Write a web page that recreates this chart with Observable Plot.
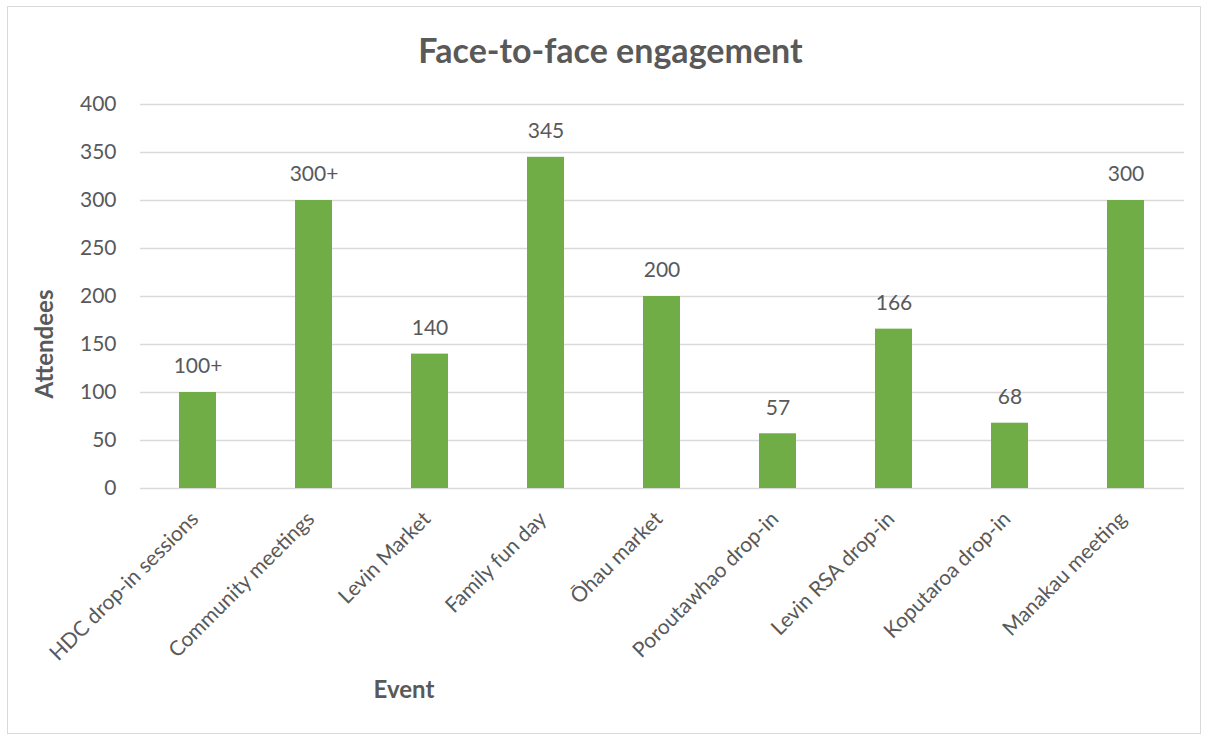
<!DOCTYPE html>
<html>
<head>
<meta charset="utf-8">
<script src="https://cdn.jsdelivr.net/npm/d3@7"></script>
<script src="https://cdn.jsdelivr.net/npm/@observablehq/plot@0.6"></script>
<style>
  html, body { margin: 0; padding: 0; background: #fff; }
  #wrap { position: relative; width: 1209px; height: 740px; overflow: hidden; font-family: Lato, "Open Sans", sans-serif; color: #595959; }
  #frame { position: absolute; left: 7px; top: 6px; width: 1194px; height: 728px; border: 1.5px solid #d9d9d9; box-sizing: border-box; }
  #title { position: absolute; left: 0; width: 1221px; top: 28px; text-align: center; font-size: 34px; font-weight: bold; line-height: 44px; }
  #ytitle { position: absolute; left: 43px; top: 344px; transform: translate(-50%, -50%) rotate(-90deg); font-size: 24px; font-weight: bold; white-space: nowrap; }
  #xtitle { position: absolute; left: 404px; top: 688px; transform: translate(-50%, -50%); font-size: 24px; font-weight: bold; white-space: nowrap; }
  #chart { position: absolute; left: 0; top: 0; }
</style>
</head>
<body>
<div id="wrap">
  <div id="frame"></div>
  <div id="chart"></div>
  <div id="title">Face-to-face engagement</div>
  <div id="ytitle">Attendees</div>
  <div id="xtitle">Event</div>
</div>
<script>
const events = ["HDC drop-in sessions", "Community meetings", "Levin Market", "Family fun day", "Ōhau market", "Poroutawhao drop-in", "Levin RSA drop-in", "Koputaroa drop-in", "Manakau meeting"];
const attendees = [100, 300, 140, 345, 200, 57, 166, 68, 300];
const valueLabels = ["100+", "300+", "140", "345", "200", "57", "166", "68", "300"];
const yTicks = [0, 50, 100, 150, 200, 250, 300, 350, 400];

const data = events.map((e, i) => ({event: e, value: attendees[i], label: valueLabels[i]}));

const chart = Plot.plot({
  width: 1209,
  height: 740,
  marginLeft: 140,
  marginRight: 25,
  marginTop: 104,
  marginBottom: 252,
  style: {fontFamily: "Lato, 'Open Sans', sans-serif", color: "#595959", background: "transparent"},
  x: {domain: events, paddingInner: 0.68, paddingOuter: 0.34, label: null},
  y: {domain: [0, 400], label: null},
  marks: [
    Plot.ruleY(yTicks, {stroke: "#d9d9d9", strokeWidth: 1.5}),
    Plot.barY(data, {x: "event", y: "value", fill: "#70AD47"}),
    Plot.text(data, {x: "event", y: "value", text: "label", dy: -26, fontSize: 21, fill: "#595959"}),
    Plot.axisY(yTicks, {tickSize: 0, tickPadding: 24, fontSize: 21, fill: "#595959", label: null}),
    Plot.axisX({tickSize: 0, tickPadding: 27, dx: -3, tickRotate: -45, fontSize: 21, fill: "#595959", label: null})
  ]
});
document.getElementById("chart").appendChild(chart);
</script>
</body>
</html>
